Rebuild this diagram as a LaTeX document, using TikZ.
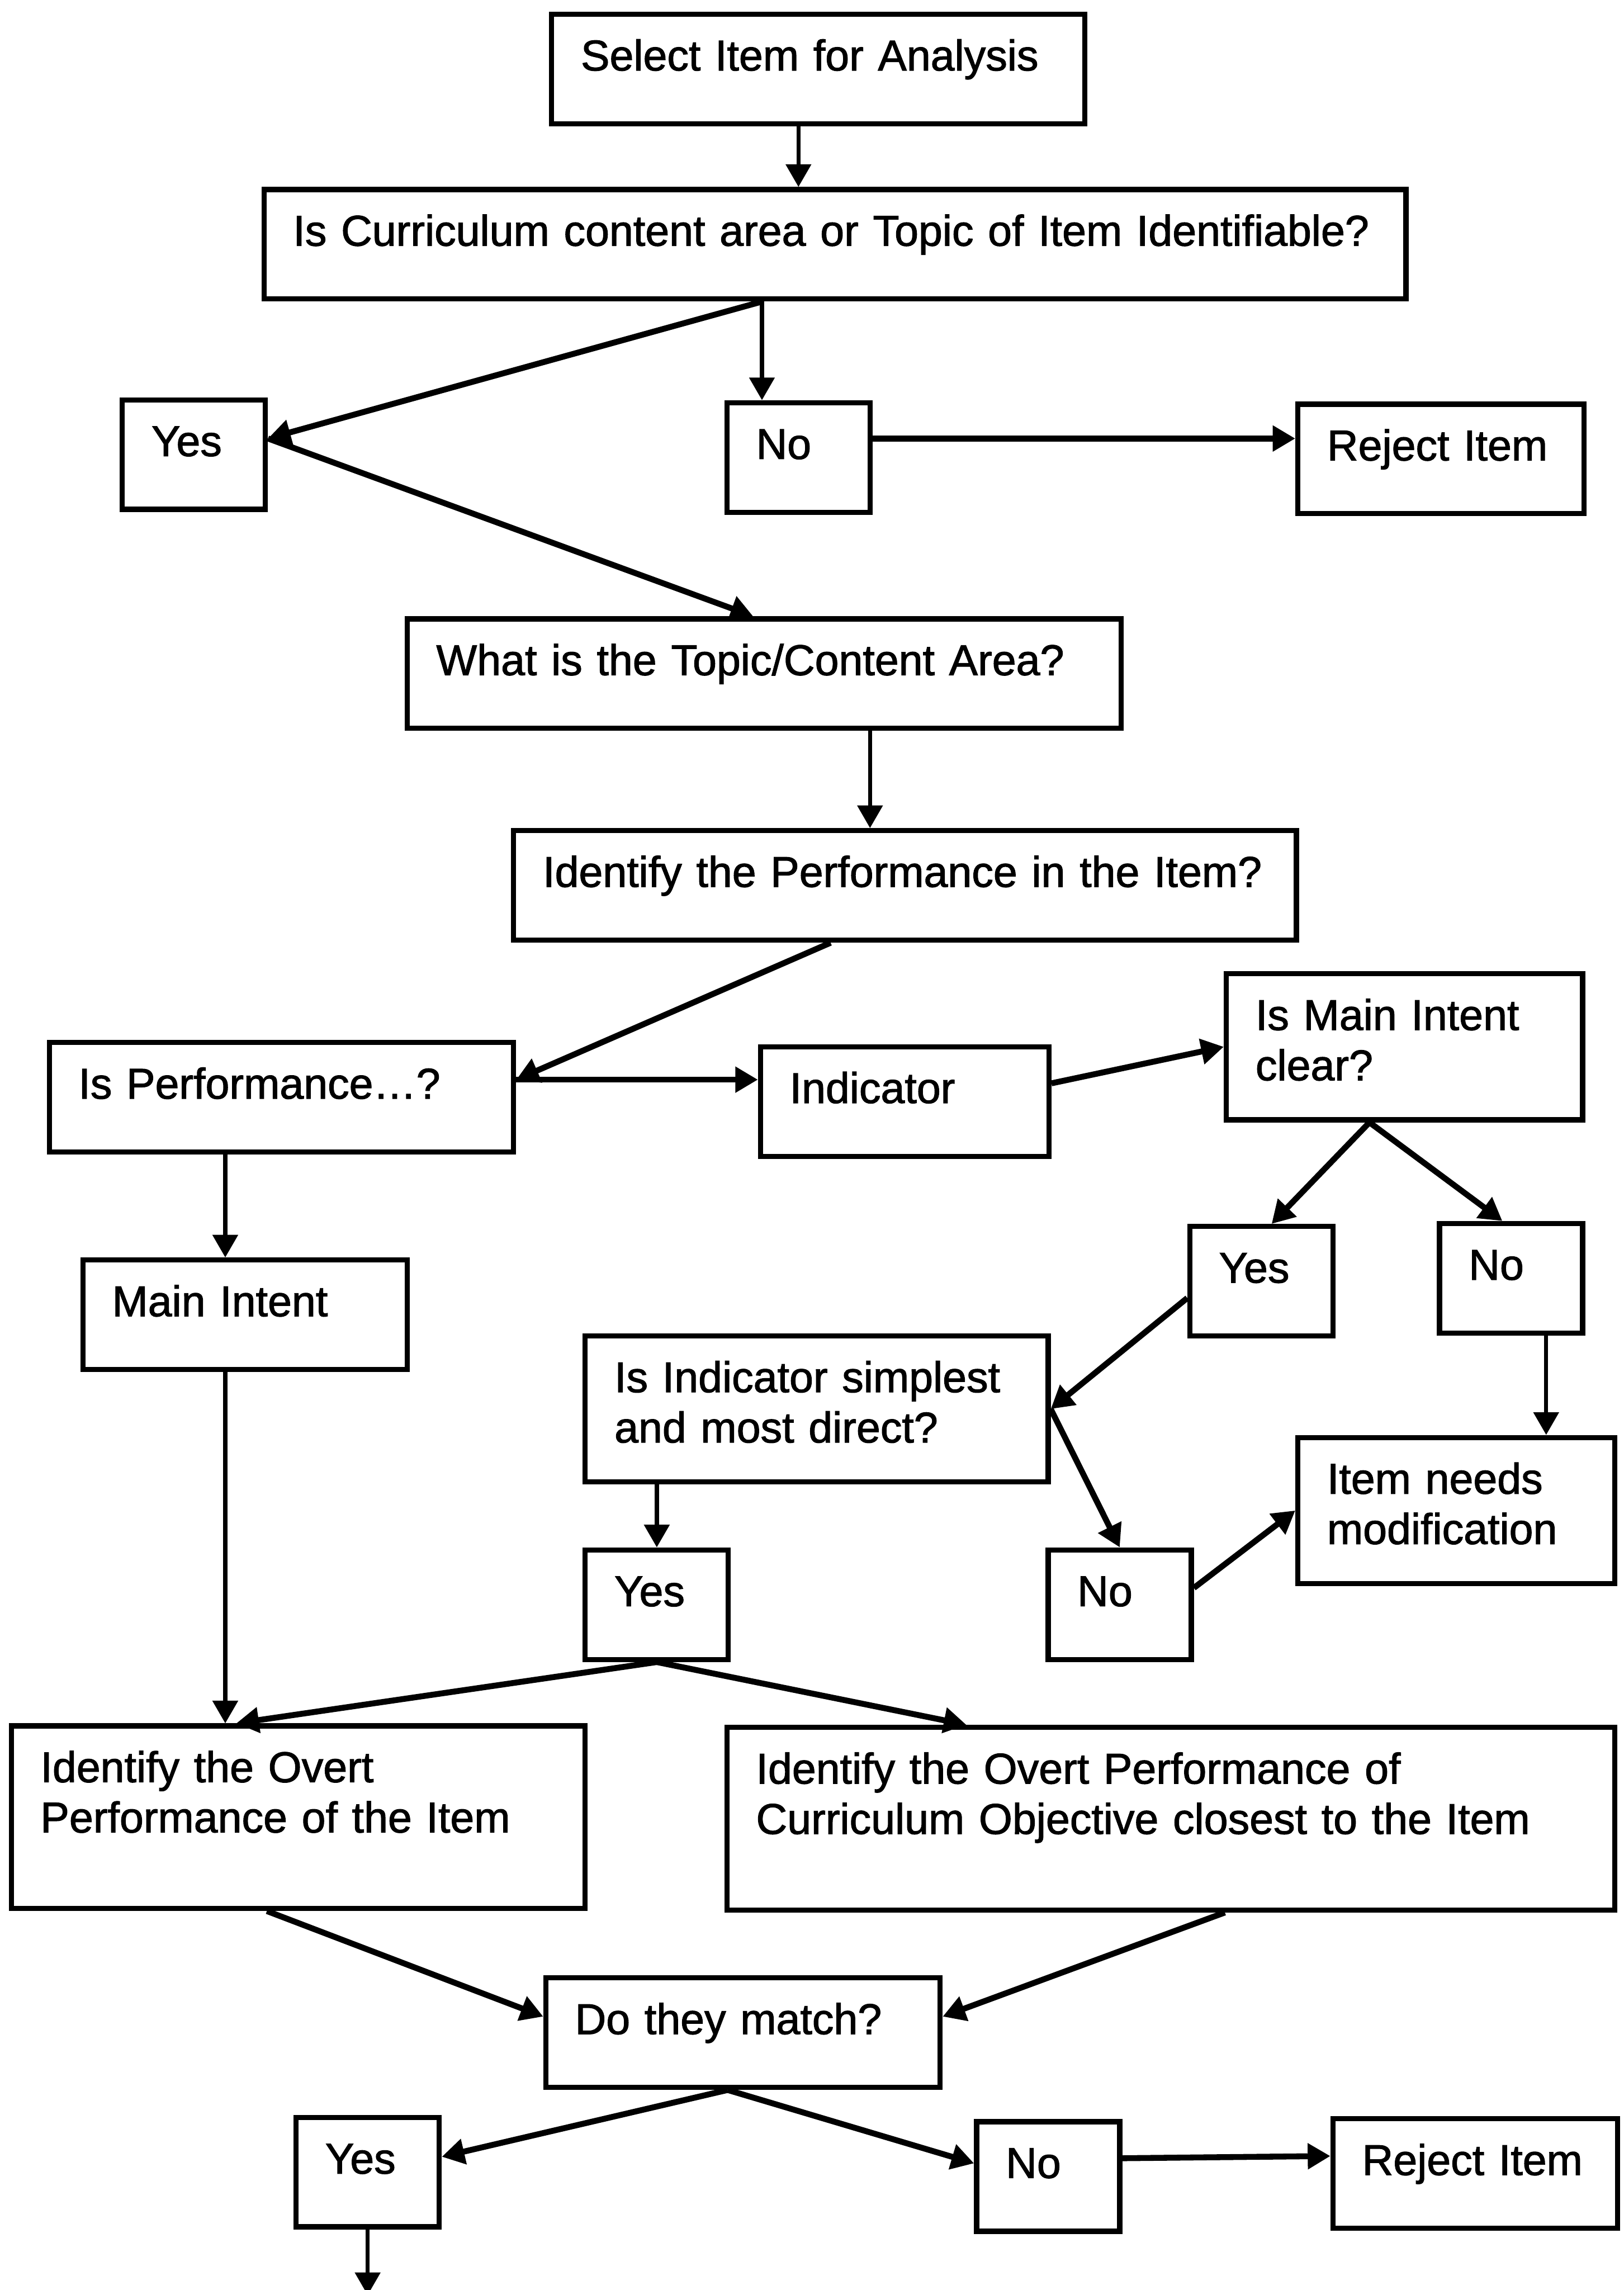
\documentclass[tikz,border=0pt]{standalone}
\usepackage{fontspec}
\setmainfont{Liberation Sans}[FakeBold=1.5]
\usetikzlibrary{arrows.meta}

\begin{document}
\begin{tikzpicture}[
		>={Triangle[length=0.31cm, width=0.34cm]},
		box/.style={draw = black, line width = 2pt, anchor = north west,
			align = left, inner xsep = 0.4cm, inner ysep = 0.2cm,
			text height = 0.57cm, text depth = 0.53cm,
			font = \fontsize{16.8}{19.6}\selectfont},
		tall/.style={text depth = 1.03cm},
		taller/.style={text depth = 1.53cm},
		yn/.style={text width = 1.16cm}]

\useasboundingbox (0,0) rectangle (22.24,-31.36);

% Boxes
\begin{scope}[every node/.style = {box}]
	\node[text width = 6.5cm] (sel) at (7.52,-0.16) {Select Item for Analysis};
	\node[text width = 14.84cm] (cur) at (3.58,-2.56) {Is Curriculum content area or Topic of Item Identifiable?};
	\node[yn] (yes1) at (1.64,-5.44) {Yes};
	\node[yn] (no1) at (9.92,-5.48) {No};
	\node[text width = 3.12cm] (rej1) at (17.74,-5.5) {Reject Item};
	\node[text width = 8.98cm] (topic) at (5.54,-8.44) {What is the Topic/Content Area?};
	\node[text width = 9.92cm] (perf) at (7.0,-11.34) {Identify the Performance in the Item?};
	\node[text width = 5.56cm] (isperf) at (0.64,-14.24) {Is Performance\ldots?};
	\node[text width = 3.15cm] (ind) at (10.38,-14.3) {Indicator};
	\node[tall, text width = 4.08cm] (ismain) at (16.76,-13.3) {Is Main Intent\\clear?};
	\node[yn] (yes2) at (16.26,-16.76) {Yes};
	\node[yn] (no2) at (19.68,-16.72) {No};
	\node[text width = 3.64cm] (mainint) at (1.1,-17.22) {Main Intent};
	\node[tall, text width = 5.54cm] (isind) at (7.98,-18.26) {Is Indicator simplest\\and most direct?};
	\node[tall, text width = 3.54cm] (needs) at (17.74,-19.65) {Item needs\\modification};
	\node[yn] (yes3) at (7.98,-21.19) {Yes};
	\node[yn] (no3) at (14.32,-21.19) {No};
	\node[taller, text width = 7.06cm] (overt) at (0.12,-23.6) {Identify the Overt\\Performance of the Item};
	\node[taller, text width = 11.36cm] (currobj) at (9.92,-23.62) {Identify the Overt Performance of\\Curriculum Objective closest to the Item};
	\node[text width = 4.6cm] (match) at (7.44,-27.05) {Do they match?};
	\node[yn] (yes4) at (4.02,-28.96) {Yes};
	\node[yn] (no4) at (13.34,-29.02) {No};
	\node[text width = 3.1cm] (rej2) at (18.22,-28.98) {Reject Item};
\end{scope}

\coordinate (cs) at ([xshift=-1.0cm]cur.south);
\coordinate (nxt) at ([yshift=-0.9cm]yes4.south);

% Straight arrows
\begin{scope}[every edge/.style = {draw = black, ->, line width = 1.6pt}]
	\path ([xshift=-0.27cm]sel.south) edge ([xshift=-0.27cm]sel.south |- cur.north);
	\path (cs) edge (cs |- no1.north);
	\path ([xshift=1.45cm]topic.south) edge ([xshift=1.45cm]topic.south |- perf.north);
	\path ([xshift=-0.27cm]mainint.north |- isperf.south) edge ([xshift=-0.27cm]mainint.north);
	\path ([xshift=-0.27cm]mainint.south) edge ([xshift=-0.27cm]mainint.south |- overt.north);
	\path ([xshift=0.48cm]no2.south) edge ([xshift=0.48cm]no2.south |- needs.north);
	\path (yes3.north |- isind.south) edge (yes3.north);
	\path (yes4.south) edge (nxt);
\end{scope}

% Slanted and side arrows
\begin{scope}[every edge/.style = {draw = black, ->, line width = 2.3pt}]
	\path (cs) edge ([yshift=0.22cm]yes1.east);
	\path ([yshift=0.22cm]yes1.east) edge ([xshift=-0.15cm]topic.north);
	\path ([yshift=0.26cm]no1.east) edge ([yshift=0.26cm]no1.east -| rej1.west);
	\path ([xshift=-1.02cm]perf.south) edge ([yshift=0.24cm]isperf.east);
	\path ([yshift=0.24cm]isperf.east) edge ([yshift=0.24cm]isperf.east -| ind.west);
	\path ([yshift=0.25cm]ind.east) edge (ismain.west);
	\path ([xshift=-0.48cm]ismain.south) edge ([xshift=0.14cm]yes2.north);
	\path ([xshift=-0.48cm]ismain.south) edge ([xshift=-0.12cm]no2.north);
	\path ([yshift=-0.23cm]yes2.west) edge (isind.east);
	\path (isind.east) edge (no3.north);
	\path ([yshift=0.23cm]no3.east) edge (needs.west);
	\path (yes3.south) edge ([xshift=-0.85cm]overt.north);
	\path (yes3.south) edge ([xshift=-2.8cm]currobj.north);
	\path ([xshift=-0.43cm]overt.south) edge ([yshift=0.22cm]match.west);
	\path ([xshift=0.74cm]currobj.south) edge ([yshift=0.22cm]match.east);
	\path ([xshift=-0.21cm]match.south) edge ([yshift=0.21cm]yes4.east);
	\path ([xshift=-0.21cm]match.south) edge ([yshift=0.18cm]no4.west);
	\path ([yshift=0.25cm]no4.east) edge ([yshift=0.24cm]rej2.west);
\end{scope}
\end{tikzpicture}
\end{document}
